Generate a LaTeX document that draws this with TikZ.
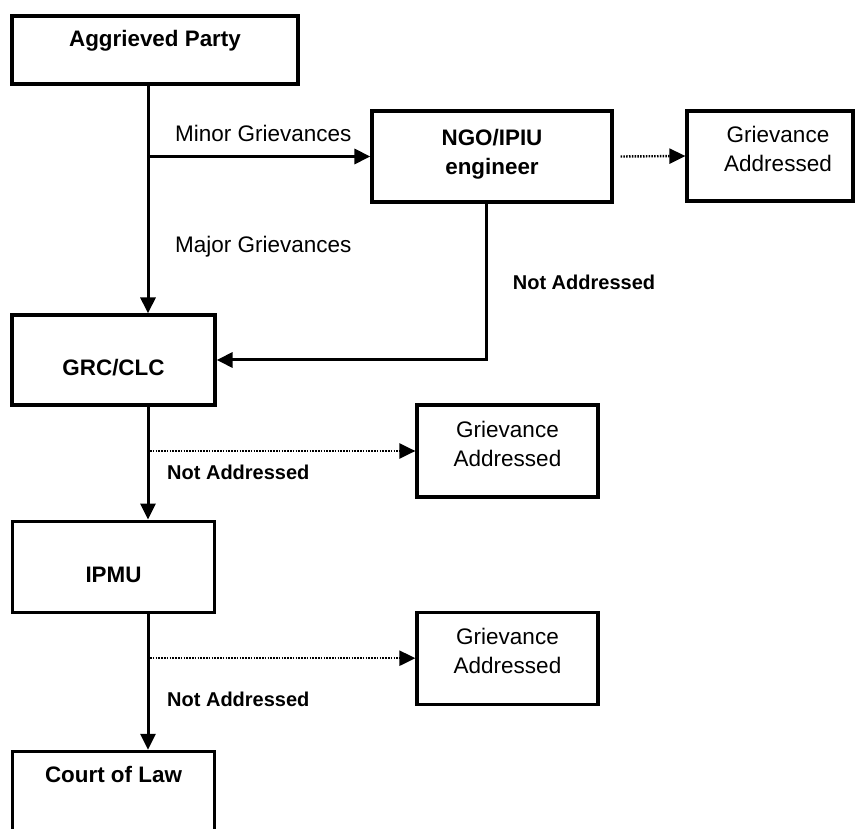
\documentclass[tikz,border=0pt]{standalone}
\usepackage{fontspec}
\setmainfont{Liberation Sans}
\usetikzlibrary{positioning,arrows.meta}

\begin{document}
\begin{tikzpicture}[x=1pt,y=-1pt,node distance=112pt,
    box/.style={draw,line width=3.2pt,inner sep=0pt},
    title/.style={font=\bfseries\fontsize{22.4}{28.5}\selectfont,align=center,inner sep=0pt},
    plain/.style={font=\fontsize{22.5}{28.5}\selectfont,align=center,inner sep=0pt},
    note/.style={font=\bfseries\fontsize{20}{24}\selectfont,inner sep=0pt},
    flow/.style={line width=3pt,-{Triangle[length=16pt,width=15pt]}},
    weak/.style={line width=2.4pt,dash pattern=on 1.5pt off 1.3pt,-{Triangle[length=16pt,width=15pt]}}]
  \useasboundingbox (0,0) rectangle (855,829);
  \clip (0,0) rectangle (855,829);

  % boxes
  \node[box,minimum width=286pt,minimum height=68pt] (agg) at (155,50) {};
  \node[box,minimum width=240pt,minimum height=91pt] (ngo) at (492,156.5) {};
  \node[box,minimum width=166pt,minimum height=90pt] (ga1) at (770,156) {};
  \node[box,minimum width=203pt,minimum height=90pt] (grc) at (113.5,360) {};
  \node[box,minimum width=181pt,minimum height=92pt] (ga2) at (507.5,451) {};
  \node[box,minimum width=202pt,minimum height=91pt,below=113pt of grc] (ipmu) {};
  \node[box,minimum width=181pt,minimum height=92pt,below=of ga2] (ga3) {};
  \node[box,minimum width=202pt,minimum height=130pt,below=136pt of ipmu] (court) {};

  % box texts
  \node[title] (aggtxt) at ([yshift=9pt]agg.center) {Aggrieved Party};
  \node[title] (ngotxt) at ([yshift=2pt]ngo.center) {NGO/IPIU\\engineer};
  \node[plain] (ga1txt) at ([xshift=8pt,yshift=7pt]ga1.center) {Grievance\\Addressed};
  \node[title] (grctxt) at ([yshift=-8pt]grc.center) {GRC/CLC};
  \node[plain] (ga2txt) at ([yshift=7pt]ga2.center) {Grievance\\Addressed};
  \node[title] (ipmutxt) at ([yshift=-8pt]ipmu.center) {IPMU};
  \node[plain] (ga3txt) at ([yshift=7pt]ga3.center) {Grievance\\Addressed};
  \node[title] (courttxt) at ([yshift=-25pt]court.north) {Court of Law};

  % connector labels
  \node[plain,anchor=west] (minor) at (175,133) {Minor Grievances};
  \node[plain,anchor=west] (major) at (175,247) {Major Grievances};
  \node[note] (na1) at (584,282) {Not Addressed};
  \node[note,anchor=west] (na2) at (167,472) {Not Addressed};
  \node[note,anchor=west] (na3) at (167,699) {Not Addressed};

  % connectors
  \coordinate (spine) at (148,0);
  \draw[flow] (agg.south -| spine) -- (grc.north -| spine);
  \draw[flow] (ngo.west -| spine) -- (ngo.west);
  \draw[weak] ([xshift=7pt]ngo.east) -- (ga1.west);
  \draw[flow] ([xshift=-6pt]ngo.south) |- (grc.east);
  \draw[flow] (grc.south -| spine) -- (ipmu.north -| spine);
  \draw[weak] ([xshift=2pt]spine |- ga2.west) -- (ga2.west);
  \draw[flow] (ipmu.south -| spine) -- (court.north -| spine);
  \draw[weak] ([xshift=2pt]spine |- ga3.west) -- (ga3.west);
\end{tikzpicture}
\end{document}
